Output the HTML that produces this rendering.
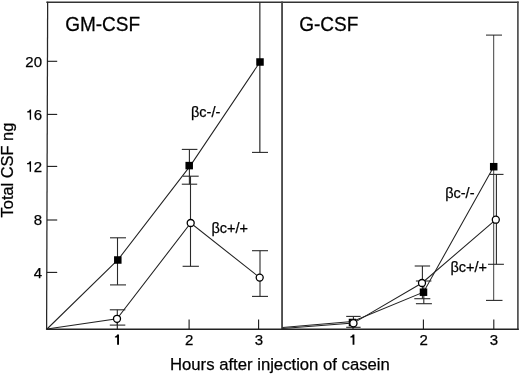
<!DOCTYPE html>
<html><head><meta charset="utf-8"><style>
html,body{margin:0;padding:0;background:#fff;width:520px;height:374px;overflow:hidden}
svg{display:block;will-change:transform}
text{font-family:"Liberation Sans",sans-serif;fill:#000;stroke:#000;stroke-width:0.25}
</style></head><body>
<svg width="520" height="374" viewBox="0 0 520 374">
<g fill="none" stroke-linecap="square">
<line x1="47" y1="2.3" x2="518" y2="2.3" stroke="#333" stroke-width="1.4"/>
<line x1="47.65" y1="2.3" x2="46.6" y2="329.2" stroke="#262626" stroke-width="1.25"/>
<line x1="517.9" y1="2.3" x2="517.9" y2="329.2" stroke="#444" stroke-width="1.6"/>
<line x1="282.05" y1="2.3" x2="282.05" y2="329.2" stroke="#444" stroke-width="1.8"/>
<line x1="47" y1="329.2" x2="518" y2="329.2" stroke="#222" stroke-width="1.4"/>
</g>
<!-- y ticks -->
<g stroke="#1a1a1a" stroke-width="1.1">
<line x1="47" y1="61.3" x2="57.2" y2="61.3"/>
<line x1="47" y1="114.4" x2="57.2" y2="114.4"/>
<line x1="47" y1="166.4" x2="57.2" y2="166.4"/>
<line x1="47" y1="220" x2="57.2" y2="220"/>
<line x1="47" y1="272.4" x2="57.2" y2="272.4"/>
<!-- x ticks -->
<line x1="117.3" y1="319.5" x2="117.3" y2="329"/>
<line x1="189.1" y1="319.5" x2="189.1" y2="329"/>
<line x1="258.6" y1="319.5" x2="258.6" y2="329"/>
<line x1="353" y1="319.5" x2="353" y2="329"/>
<line x1="423.4" y1="319.5" x2="423.4" y2="329"/>
<line x1="493.8" y1="319.5" x2="493.8" y2="329"/>
</g>
<g font-size="15" text-anchor="end">
<text x="42" y="66.6">20</text>
<text x="42" y="119.7">6</text>
<text x="42" y="171.7">2</text>
<text x="42" y="225.3">8</text>
<text x="42" y="277.7">4</text>
</g>
<g font-size="15" text-anchor="middle">
<text x="189.1" y="345">2</text>
<text x="258.9" y="345">3</text>
<text x="423.7" y="345">2</text>
<text x="494" y="345">3</text>
</g>
<g fill="#000">
<path d="M117.10,344.80 V337.49 H114.90 V336.46 C115.89,336.35 116.95,335.63 117.15,334.50 H119.00 V344.80 Z"/>
<path d="M352.60,344.80 V337.49 H350.30 V336.46 C351.34,336.35 352.45,335.63 352.65,334.50 H354.40 V344.80 Z"/>
<path d="M29.75,119.75 V112.40 H27.20 V111.37 C28.35,111.26 29.60,110.54 29.80,109.40 H31.10 V119.75 Z"/>
<path d="M29.65,171.70 V164.32 H27.00 V163.28 C28.19,163.17 29.50,162.44 29.70,161.30 H31.05 V171.70 Z"/>
</g>
<text x="170" y="369.8" font-size="16.7">Hours after injection of casein</text>
<text transform="translate(12.6,217.4) rotate(-90)" font-size="16.4">Total CSF ng</text>
<text transform="translate(65.2,30.9) scale(1,1.05)" font-size="19">GM-CSF</text>
<text transform="translate(299.2,31) scale(1,1.05)" font-size="19">G-CSF</text>

<!-- data lines -->
<g fill="none" stroke="#222" stroke-width="1.05">
<polyline points="47,329 117.8,260 190.4,165.6 260,62"/>
<polyline points="47,329 117,318.8 190.7,223 259.7,277.6"/>
<polyline points="282.5,327.4 352.5,321.6 423.5,292.2 493.7,166.7"/>
<polyline points="282.5,328.4 353.4,323.1 422,283 495.8,219.7"/>
</g>
<!-- error bars -->
<g stroke="#2a2a2a" stroke-width="1.1">
<!-- left squares -->
<line x1="117.5" y1="237.8" x2="117.5" y2="284.9"/><line x1="110" y1="237.8" x2="126" y2="237.8"/><line x1="110" y1="284.9" x2="126" y2="284.9"/>
<line x1="189.4" y1="149.4" x2="189.4" y2="184.2"/><line x1="181.8" y1="149.4" x2="197.4" y2="149.4"/><line x1="181.8" y1="184.2" x2="197.2" y2="184.2"/>
<line x1="259.85" y1="2.4" x2="259.85" y2="152.4" stroke-width="1.2"/><line x1="252" y1="152.4" x2="268" y2="152.4"/>
<!-- left circles -->
<line x1="117.3" y1="309.8" x2="117.3" y2="325.1"/><line x1="109.8" y1="309.8" x2="125.3" y2="309.8"/><line x1="109.8" y1="325.1" x2="125.3" y2="325.1"/>
<line x1="190.5" y1="176.2" x2="190.5" y2="266.3"/><line x1="183" y1="176.2" x2="198.7" y2="176.2"/><line x1="182.6" y1="266.3" x2="198.9" y2="266.3"/>
<line x1="260" y1="250.7" x2="260" y2="296.4"/><line x1="252" y1="250.7" x2="268" y2="250.7"/><line x1="252" y1="296.4" x2="268" y2="296.4"/>
<!-- right squares -->
<line x1="353.4" y1="316.4" x2="353.4" y2="327.3"/><line x1="346.2" y1="316.4" x2="360.6" y2="316.4"/><line x1="346.2" y1="327.3" x2="360.6" y2="327.3"/>
<line x1="423.8" y1="281" x2="423.8" y2="303.7"/><line x1="415.9" y1="281" x2="431.4" y2="281"/><line x1="415.9" y1="303.7" x2="431.9" y2="303.7"/>
<line x1="493.7" y1="35" x2="493.7" y2="300.4" stroke-width="0.9"/><line x1="486" y1="35.1" x2="502" y2="35.1" stroke="#222" stroke-width="1"/><line x1="486" y1="300.4" x2="502.5" y2="300.4"/>
<!-- right circles -->
<line x1="422.4" y1="266" x2="422.4" y2="298.7"/><line x1="414.7" y1="266" x2="430.1" y2="266"/><line x1="414.3" y1="298.7" x2="430.3" y2="298.7"/>
<line x1="496.4" y1="174.4" x2="496.4" y2="264.3"/><line x1="489" y1="174.4" x2="503.5" y2="174.4"/><line x1="488" y1="264.3" x2="503.9" y2="264.3"/>
</g>
<!-- squares -->
<g fill="#000">
<rect x="114.05" y="256.25" width="7.5" height="7.5"/>
<rect x="185.45" y="161.85" width="7.5" height="7.5"/>
<rect x="256.25" y="58.25" width="7.5" height="7.5"/>
<rect x="348.75" y="318.75" width="7.5" height="7.5"/>
<rect x="419.75" y="288.45" width="7.5" height="7.5"/>
<rect x="489.95" y="162.95" width="7.5" height="7.5"/>
</g>
<!-- circles -->
<g fill="#fff" stroke="#000" stroke-width="1.3">
<circle cx="117" cy="318.8" r="3.5"/>
<circle cx="190.7" cy="223" r="3.5"/>
<circle cx="259.7" cy="277.6" r="3.5"/>
<circle cx="353.4" cy="323.2" r="3.6"/>
<circle cx="422" cy="283" r="3.5"/>
<circle cx="495.8" cy="219.7" r="3.5"/>
</g>
<g font-size="14.5">
<text x="191" y="117">βc-/-</text>
<text x="211.5" y="232.6">βc+/+</text>
<text x="445.2" y="198.3">βc-/-</text>
<text x="450.5" y="272">βc+/+</text>
</g>
</svg>
</body></html>
